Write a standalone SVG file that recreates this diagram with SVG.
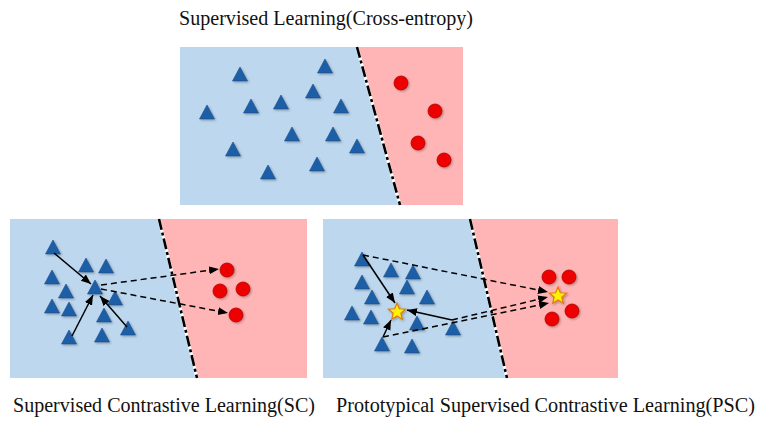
<svg xmlns="http://www.w3.org/2000/svg" xmlns:xlink="http://www.w3.org/1999/xlink" width="770" height="429" viewBox="0 0 770 429">
<style>
.bg-blue{fill:#BDD7EE}
.bg-red{fill:#FFB5B5}
.tri{fill:#1F5FA6;stroke:#1A4F8C;stroke-width:0.6}
.dot{fill:#EE0000;stroke:#B00000;stroke-width:0.8}
.star{fill:#FFF200;stroke:#E07A10;stroke-width:1.2}
.sep-w{stroke:#FFFFFF;stroke-width:3;fill:none}
.sep{stroke:#000000;stroke-width:2.6;fill:none;stroke-dasharray:11,3,3,3}
.solid{stroke:#000;stroke-width:1.5;fill:none}
.dash{stroke:#000;stroke-width:1.5;fill:none;stroke-dasharray:6,4}
.label{font-family:"Liberation Serif","Times New Roman",serif;font-size:20px;fill:#111}
</style>
<defs>
<filter id="sh" x="-30%" y="-30%" width="160%" height="160%">
<feDropShadow dx="1.2" dy="1.2" stdDeviation="0.8" flood-color="#000" flood-opacity="0.3"/>
</filter>
<path id="t" class="tri" d="M0,-8 L7.5,6 L-7.5,6Z" filter="url(#sh)"/>
<circle id="c" class="dot" r="7" filter="url(#sh)"/>
<path id="s" class="star" d="M0,-9 L2.35,-3.24 L8.56,-2.78 L3.8,1.24 L5.29,7.28 L0,4 L-5.29,7.28 L-3.8,1.24 L-8.56,-2.78 L-2.35,-3.24Z" filter="url(#sh)"/>
<marker id="ah" markerUnits="userSpaceOnUse" markerWidth="11" markerHeight="9" refX="10" refY="4" orient="auto">
<path d="M0,0 L10,4 L0,8Z" fill="#000"/>
</marker>
</defs>
<rect width="770" height="429" fill="#FFFFFF"/>

<g id="panel-ce">
<polygon class="bg-blue" points="180,47 357,47 400,205 180,205"/>
<polygon class="bg-red" points="357,47 463,47 463,205 400,205"/>
<line class="sep-w" x1="357" y1="47" x2="400" y2="205"/>
<line class="sep" x1="357" y1="47" x2="400" y2="205"/>
<g id="ce-triangles">
<use xlink:href="#t" x="325" y="67"/>
<use xlink:href="#t" x="240" y="75"/>
<use xlink:href="#t" x="313" y="92"/>
<use xlink:href="#t" x="281" y="103"/>
<use xlink:href="#t" x="251" y="107"/>
<use xlink:href="#t" x="341" y="107"/>
<use xlink:href="#t" x="207" y="113"/>
<use xlink:href="#t" x="292" y="135"/>
<use xlink:href="#t" x="333" y="135"/>
<use xlink:href="#t" x="357" y="147"/>
<use xlink:href="#t" x="233" y="150"/>
<use xlink:href="#t" x="317" y="165"/>
<use xlink:href="#t" x="268" y="173"/>
</g>
<g id="ce-circles">
<use xlink:href="#c" x="401" y="83"/>
<use xlink:href="#c" x="435" y="111"/>
<use xlink:href="#c" x="418" y="143"/>
<use xlink:href="#c" x="444" y="160"/>
</g>
</g>

<g id="panel-sc">
<polygon class="bg-blue" points="10,219 159,219 197,378 10,378"/>
<polygon class="bg-red" points="159,219 307,219 307,378 197,378"/>
<line class="sep-w" x1="159" y1="219" x2="197" y2="378"/>
<line class="sep" x1="159" y1="219" x2="197" y2="378"/>
<g id="sc-triangles">
<use xlink:href="#t" x="53" y="248"/>
<use xlink:href="#t" x="86" y="266"/>
<use xlink:href="#t" x="106" y="267"/>
<use xlink:href="#t" x="52" y="278"/>
<use xlink:href="#t" x="95" y="288"/>
<use xlink:href="#t" x="66" y="292"/>
<use xlink:href="#t" x="115" y="299"/>
<use xlink:href="#t" x="52" y="307"/>
<use xlink:href="#t" x="69" y="310"/>
<use xlink:href="#t" x="104" y="316"/>
<use xlink:href="#t" x="128" y="329"/>
<use xlink:href="#t" x="69" y="338"/>
<use xlink:href="#t" x="102" y="336"/>
</g>
<g id="sc-circles">
<use xlink:href="#c" x="227" y="270"/>
<use xlink:href="#c" x="220" y="291"/>
<use xlink:href="#c" x="243" y="289"/>
<use xlink:href="#c" x="236" y="315"/>
</g>
</g>

<g id="panel-psc">
<polygon class="bg-blue" points="323,219 470,219 507,378 323,378"/>
<polygon class="bg-red" points="470,219 618,219 618,378 507,378"/>
<line class="sep-w" x1="470" y1="219" x2="507" y2="378"/>
<line class="sep" x1="470" y1="219" x2="507" y2="378"/>
<g id="psc-triangles">
<use xlink:href="#t" x="362" y="260"/>
<use xlink:href="#t" x="391" y="271"/>
<use xlink:href="#t" x="413" y="273"/>
<use xlink:href="#t" x="362" y="283"/>
<use xlink:href="#t" x="407" y="288"/>
<use xlink:href="#t" x="372" y="298"/>
<use xlink:href="#t" x="427" y="298"/>
<use xlink:href="#t" x="352" y="314"/>
<use xlink:href="#t" x="371" y="318"/>
<use xlink:href="#t" x="417" y="324"/>
<use xlink:href="#t" x="453" y="329"/>
<use xlink:href="#t" x="382" y="345"/>
<use xlink:href="#t" x="412" y="347"/>
</g>
<g id="psc-circles">
<use xlink:href="#c" x="549" y="277"/>
<use xlink:href="#c" x="569" y="277"/>
<use xlink:href="#c" x="572" y="311"/>
<use xlink:href="#c" x="552" y="319"/>
</g>
</g>

<g id="connectors">
<line class="solid" x1="54" y1="253" x2="91" y2="284" marker-end="url(#ah)"/>
<line class="solid" x1="72" y1="336" x2="93" y2="295" marker-end="url(#ah)"/>
<line class="solid" x1="127" y1="327" x2="100" y2="296" marker-end="url(#ah)"/>
<line class="dash" x1="101" y1="285" x2="219" y2="269" marker-end="url(#ah)"/>
<line class="dash" x1="101" y1="289" x2="228" y2="313" marker-end="url(#ah)"/>

<line class="solid" x1="363" y1="255" x2="395" y2="303" marker-end="url(#ah)"/>
<line class="solid" x1="452" y1="320" x2="407" y2="310" marker-end="url(#ah)"/>
<line class="solid" x1="383" y1="337" x2="391" y2="320" marker-end="url(#ah)"/>
<line class="dash" x1="363" y1="255" x2="548" y2="292" marker-end="url(#ah)"/>
<line class="dash" x1="452" y1="320" x2="548" y2="297" marker-end="url(#ah)"/>
<line class="dash" x1="383" y1="337" x2="549" y2="303" marker-end="url(#ah)"/>
</g>

<g id="prototypes">
<use id="proto-blue" xlink:href="#s" x="397" y="312"/>
<use id="proto-red" xlink:href="#s" x="558" y="296"/>
</g>

<g id="labels">
<text class="label" x="179" y="25" textLength="294" lengthAdjust="spacingAndGlyphs">Supervised Learning(Cross-entropy)</text>
<text class="label" x="13" y="412" font-size="21" textLength="302" lengthAdjust="spacingAndGlyphs">Supervised Contrastive Learning(SC)</text>
<text class="label" x="336" y="412" font-size="21" textLength="419" lengthAdjust="spacingAndGlyphs">Prototypical Supervised Contrastive Learning(PSC)</text>
</g>
</svg>
